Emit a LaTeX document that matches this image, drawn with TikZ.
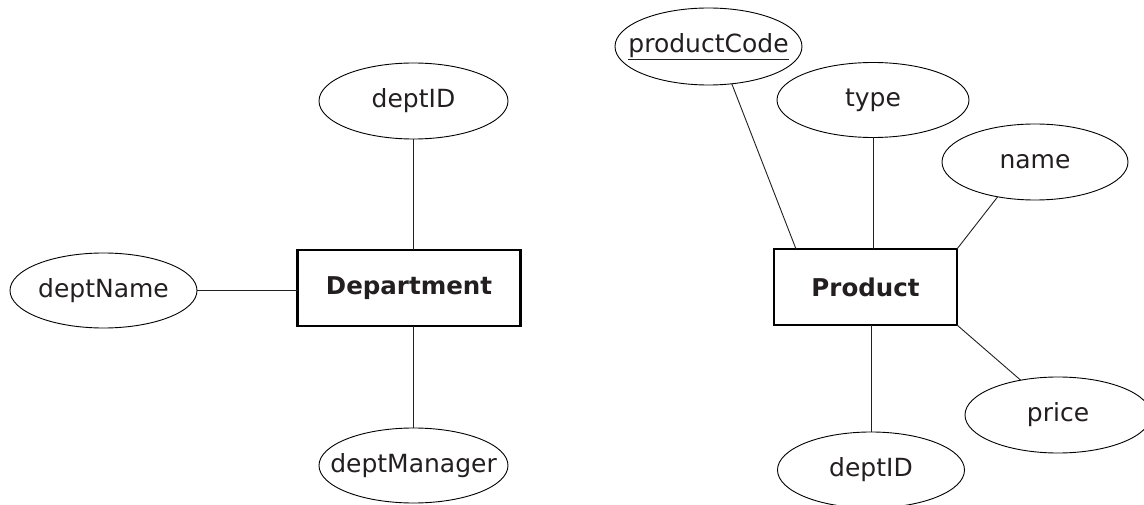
\documentclass[tikz,border=0pt]{standalone}
\usepackage{fontspec}
\setmainfont{DejaVu Sans}
\usetikzlibrary{shapes.geometric}
\definecolor{ink}{HTML}{231F20}
\newcommand\zw[1]{\makebox[0pt][c]{#1}}
\begin{document}
\begin{tikzpicture}[x=1pt,y=-1pt,
  attr/.style={ellipse, draw=black, line width=0.9pt, inner sep=0pt, outer sep=0pt,
    font=\fontsize{25}{30}\selectfont, text=ink},
  ent/.style={rectangle, draw=black, line width=2.4pt, inner sep=0pt, outer sep=0pt,
    font=\fontsize{24.5}{29}\selectfont\bfseries, text=ink},
  link/.style={draw=ink, line width=0.9pt}]
\useasboundingbox (0,0) rectangle (1144,505);
\fill[white] (0,0) rectangle (1144,505);
% Department
\node[ent, minimum width=223pt, minimum height=76pt] (dept) at (409,288) {\raisebox{-2pt}{Department}};
\node[attr, minimum width=189pt, minimum height=76pt] (did) at (413.5,101) {\zw{deptID}};
\node[attr, minimum width=187pt, minimum height=75pt] (dname) at (103.5,290.5) {\zw{deptName}};
\node[attr, minimum width=189pt, minimum height=75pt] (dman) at (413.5,465.5) {\zw{deptManager}};
\draw[link] (did) -- (did |- dept.north);
\draw[link] (dman) -- (dman |- dept.south);
\draw[link] (dname) -- (dname -| dept.west);
% Product
\node[ent, minimum width=183pt, minimum height=76pt] (prod) at (865.5,287) {Product};
\node[attr, minimum width=187pt, minimum height=77pt] (pc) at (708.5,46.5) {\zw{\underline{productCode}}};
\node[attr, minimum width=192pt, minimum height=75pt] (type) at (873,100) {\zw{type}};
\node[attr, minimum width=186pt, minimum height=76pt] (name) at (1035,162) {\zw{name}};
\node[attr, minimum width=186pt, minimum height=76pt] (price) at (1058,415) {\zw{price}};
\node[attr, minimum width=187pt, minimum height=76pt] (pdid) at (871,470) {\zw{deptID}};
\draw[link] (pc.302) -- ([xshift=22pt]prod.north west);
\draw[link] (type) -- (type |- prod.north);
\draw[link] (name.223) -- (prod.north east);
\draw[link] (price.137) -- (prod.south east);
\draw[link] (pdid) -- (pdid |- prod.south);
\end{tikzpicture}
\end{document}
